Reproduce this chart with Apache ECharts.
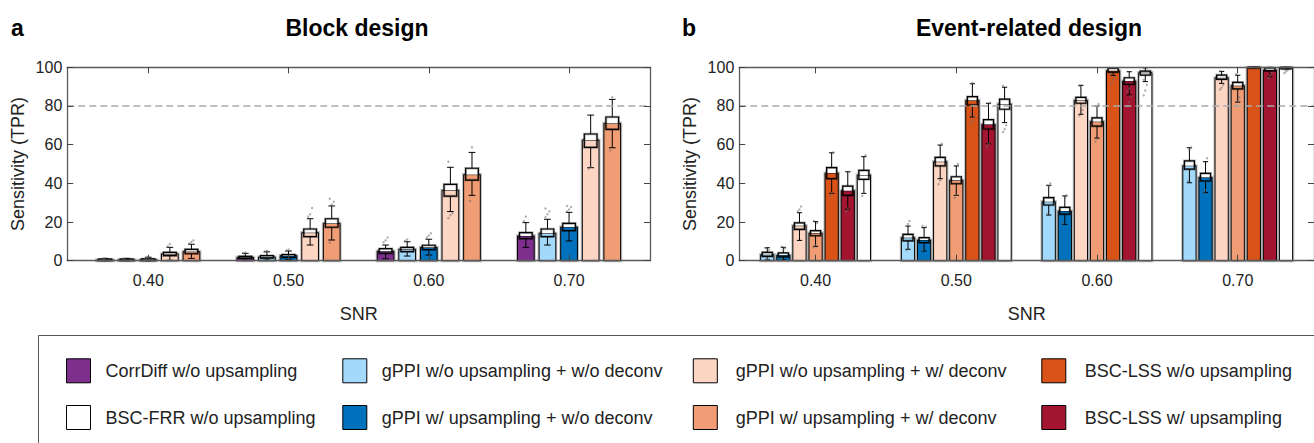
<!DOCTYPE html>
<html><head><meta charset="utf-8">
<script src="https://cdn.jsdelivr.net/npm/echarts@6/dist/echarts.min.js"></script>
<style>html,body{margin:0;padding:0;background:#fff}#c{width:1314px;height:443px}</style>
</head><body><div id="c"></div>
<script>
// ---------------- DATA ----------------
const snrLevels = [0.40, 0.50, 0.60, 0.70];
const yTicks = [0, 20, 40, 60, 80, 100];
const threshold = 80;

// rows per SNR: [mean, whiskerLow, whiskerHigh, boxLow, boxHigh]
// Block design
const blockCorrDiff   = [[0.4, 0, 1.2, 0.1, 0.8], [1.7, 0.2, 3.8, 1.2, 2.2], [4.9, 1.0, 8.1, 3.8, 6.2], [12.8, 6.9, 19.7, 11.4, 14.5]];
const blockGppiNoNo   = [[0.4, 0, 1.2, 0.1, 0.8], [1.9, 0.3, 4.6, 1.3, 2.6], [5.9, 2.4, 9.8, 4.7, 6.9], [14.2, 8.1, 21.4, 12.4, 16.4]];
const blockGppiUpNo   = [[0.5, 0, 1.8, 0.1, 0.9], [2.6, 0.6, 5.0, 1.7, 3.2], [6.9, 2.9, 11.1, 5.7, 8.0], [17.4, 10.2, 25.0, 15.5, 19.3]];
const blockGppiNoDec  = [[3.5, 0.2, 6.9, 2.6, 4.3], [14.5, 8.1, 21.7, 12.4, 16.4], [36.4, 25.4, 48.3, 33.4, 39.5], [62.4, 48.1, 75.3, 58.6, 65.5]];
const blockGppiUpDec  = [[4.7, 1.2, 8.5, 3.6, 5.9], [19.3, 10.7, 28.3, 17.3, 21.7], [44.5, 33.8, 56.0, 41.7, 47.8], [71.0, 58.4, 83.4, 67.9, 74.3]];
// Event-related design
const eventGppiNoNo   = [[3.1, 0.5, 6.7, 2.2, 4.3], [11.9, 5.9, 17.9, 10.3, 13.6], [30.5, 23.6, 39.0, 28.8, 32.6], [49.1, 40.3, 58.4, 47.3, 51.6]];
const eventGppiUpNo   = [[2.9, 0.5, 6.9, 2.0, 4.0], [10.7, 5.0, 17.1, 9.3, 11.9], [25.7, 18.8, 33.5, 24.1, 27.6], [43.1, 35.2, 51.2, 41.2, 45.2]];
const eventGppiNoDec  = [[18.1, 10.5, 24.8, 16.2, 19.6], [51.2, 42.4, 59.8, 49.0, 53.4], [82.9, 75.7, 90.7, 81.4, 84.5], [94.6, 91.7, 97.9, 93.8, 96.0]];
const eventGppiUpDec  = [[14.3, 7.4, 20.2, 12.9, 15.5], [41.6, 33.8, 49.0, 39.8, 43.4], [71.9, 63.4, 80.0, 69.6, 73.9], [90.5, 82.0, 95.9, 88.8, 92.2]];
const eventLssNoUp    = [[45.3, 34.8, 55.8, 42.4, 48.1], [82.9, 74.3, 91.5, 80.5, 84.8], [98.2, 95.8, 99.8, 97.5, 99.5], [100, 99.9, 100, 99.6, 100]];
const eventLssUp      = [[36.2, 26.7, 46.0, 33.8, 38.6], [70.5, 60.5, 81.4, 68.1, 72.9], [92.9, 85.7, 97.7, 91.2, 94.6], [98.6, 95.1, 100, 98.2, 99.7]];
const eventFrrNoUp    = [[44.3, 34.8, 53.8, 42.1, 46.7], [81.0, 71.4, 89.7, 78.3, 83.5], [97.2, 92.6, 99.7, 96.0, 98.0], [99.7, 99.0, 100, 99.2, 100]];

// individual grey points (per SNR level) visible beyond/around the whiskers
const blockDotsCorrDiff  = [[1.0, 1.3], [3.9, 4.2], [9.5, 10.5, 12.0], [20.5, 22.8]];
const blockDotsGppiNoNo  = [[1.1], [4.8, 5.2], [10.3, 11.0], [22.5, 24.0, 25.5, 27.0]];
const blockDotsGppiUpNo  = [[1.5, 2.0], [5.2, 5.8], [12.0, 13.0, 14.2], [25.5, 26.5, 27.8, 28.3]];
const blockDotsGppiNoDec = [[7.5, 8.6], [22.8, 24.0, 27.2], [22.0, 23.5, 24.5, 51.2], [47.5, 48.5]];
const blockDotsGppiUpDec = [[9.0, 9.8, 10.5], [9.3, 29.0, 30.5, 32.0], [30.9, 58.6], [57.0, 84.5]];
const eventDotsGppiNoNo  = [[0.5, 1.0, 5.5, 6.5], [5.5, 19.0, 20.5], [24.0, 38.5, 40.0], [41.0, 57.5, 58.5]];
const eventDotsGppiUpNo  = [[1.0, 5.5, 6.5, 7.2], [5.5, 16.5, 17.5, 18.0], [19.5, 32.5, 33.8], [35.5, 36.5, 53.0]];
const eventDotsGppiNoDec = [[25.5, 26.5, 28.0], [39.5, 41.5, 60.5], [75.0, 76.5, 78.0, 90.5], [88.5, 89.5, 91.0, 98.0]];
const eventDotsGppiUpDec = [[7.0, 8.0, 19.5, 20.5], [32.5, 34.0, 50.0], [61.5, 63.0, 81.0], [80.0, 82.5, 84.5, 96.5]];
const eventDotsLssNoUp   = [[33.5, 35.0, 56.0], [71.0, 72.5, 74.5, 76.0, 92.0], [91.5, 93.5, 95.0, 96.5], []];
const eventDotsLssUp     = [[25.5, 27.0, 46.0], [59.0, 60.5, 81.5], [80.0, 82.0, 85.0, 87.5, 89.0], [94.5, 95.5, 97.0]];
const eventDotsFrrNoUp   = [[33.5, 35.0, 54.5], [66.5, 68.0, 70.0, 90.5], [85.5, 88.0, 91.0, 93.5], [97.0, 97.8, 98.5, 99.0]];

const N_CORR = 'CorrDiff w/o upsampling';
const N_FRR = 'BSC-FRR w/o upsampling';
const N_G00 = 'gPPI w/o upsampling + w/o deconv';
const N_G10 = 'gPPI w/ upsampling + w/o deconv';
const N_G01 = 'gPPI w/o upsampling + w/ deconv';
const N_G11 = 'gPPI w/ upsampling + w/ deconv';
const N_LSS0 = 'BSC-LSS w/o upsampling';
const N_LSS1 = 'BSC-LSS w/ upsampling';

// ---------------- STYLE ----------------
const FONT = "'Liberation Sans', Arial, Helvetica, sans-serif";
const COLOR = {};
COLOR[N_CORR] = '#7E2F8E';
COLOR[N_FRR] = '#FFFFFF';
COLOR[N_G00] = '#A3D9FA';
COLOR[N_G10] = '#0072BD';
COLOR[N_G01] = '#FDD5C3';
COLOR[N_G11] = '#F09C74';
COLOR[N_LSS0] = '#D95319';
COLOR[N_LSS1] = '#A2142F';

const grids = [
  {left: 67.3, top: 67.3, width: 582.7, height: 193.4},
  {left: 739.3, top: 67.3, width: 583, height: 193.4}
];
const xRanges = [[0.3423, 0.7577], [0.3458, 0.7542]];
const barPitch = [0.0154, 0.01144];
const barWidth = [0.0119, 0.0094];

const panels = [
  [[N_CORR, blockCorrDiff, blockDotsCorrDiff], [N_G00, blockGppiNoNo, blockDotsGppiNoNo], [N_G10, blockGppiUpNo, blockDotsGppiUpNo],
   [N_G01, blockGppiNoDec, blockDotsGppiNoDec], [N_G11, blockGppiUpDec, blockDotsGppiUpDec]],
  [[N_G00, eventGppiNoNo, eventDotsGppiNoNo], [N_G10, eventGppiUpNo, eventDotsGppiUpNo], [N_G01, eventGppiNoDec, eventDotsGppiNoDec],
   [N_G11, eventGppiUpDec, eventDotsGppiUpDec], [N_LSS0, eventLssNoUp, eventDotsLssNoUp], [N_LSS1, eventLssUp, eventDotsLssUp],
   [N_FRR, eventFrrNoUp, eventDotsFrrNoUp]]
];

function makeRender(offset, bw, color) {
  return function (params, api) {
    const x = api.value(0) + offset;
    const mean = api.value(1), lo = api.value(2), hi = api.value(3), bLo = api.value(4), bHi = api.value(5);
    const base = api.coord([x, 0]);
    const yTop = api.coord([x, mean])[1];
    const yLo = api.coord([x, lo])[1], yHi = api.coord([x, hi])[1];
    const yBLo = api.coord([x, bLo])[1], yBHi = api.coord([x, bHi])[1];
    const w = api.size([bw, 0])[0];
    const cx = base[0];
    const boxW = w * 0.76, capW = w * 0.4;
    const ch = [];
    const barShape = {x: cx - w / 2, y: yTop, width: w, height: base[1] - yTop};
    ch.push({type: 'rect', shape: barShape, style: {fill: 'none', stroke: 'rgba(0,0,0,0.25)', lineWidth: 3.2}});
    ch.push({type: 'rect', shape: barShape, style: {fill: color, stroke: '#000', lineWidth: 1}});
    ch.push({type: 'line', shape: {x1: cx, y1: yLo, x2: cx, y2: yBLo}, style: {stroke: '#000', lineWidth: 1}});
    ch.push({type: 'line', shape: {x1: cx, y1: yBHi, x2: cx, y2: yHi}, style: {stroke: '#000', lineWidth: 1}});
    ch.push({type: 'line', shape: {x1: cx - capW / 2, y1: yLo, x2: cx + capW / 2, y2: yLo}, style: {stroke: '#000', lineWidth: 1}});
    ch.push({type: 'line', shape: {x1: cx - capW / 2, y1: yHi, x2: cx + capW / 2, y2: yHi}, style: {stroke: '#000', lineWidth: 1}});
    const yWhiteBottom = Math.min(yTop, yBLo);
    if (yWhiteBottom > yBHi) {
      ch.push({type: 'rect', shape: {x: cx - boxW / 2, y: yBHi, width: boxW, height: yWhiteBottom - yBHi}, style: {fill: '#fff'}});
    }
    ch.push({type: 'rect', shape: {x: cx - boxW / 2, y: yBHi, width: boxW, height: yBLo - yBHi}, style: {fill: 'none', stroke: 'rgba(0,0,0,0.3)', lineWidth: 2.6}});
    ch.push({type: 'rect', shape: {x: cx - boxW / 2, y: yBHi, width: boxW, height: yBLo - yBHi}, style: {fill: 'none', stroke: '#000', lineWidth: 1.2}});
    return {type: 'group', children: ch};
  };
}

function makeDotRender(offset, bw) {
  return function (params, api) {
    const x = api.value(0) + offset;
    const k = api.value(2);
    const p = api.coord([x, api.value(1)]);
    const w = api.size([bw, 0])[0];
    const dx = ((k % 3) - 1) * w * 0.12;
    return {type: 'circle', shape: {cx: p[0] + dx, cy: p[1], r: 1.2}, style: {fill: 'rgba(110,110,110,0.55)'}};
  };
}

const series = [];
const xAxes = [];
const yAxes = [];
panels.forEach((list, g) => {
  const n = list.length;
  list.forEach(([name, rows, dots], i) => {
    const off = (i - (n - 1) / 2) * barPitch[g];
    series.push({
      type: 'custom', name: name, xAxisIndex: g * 2, yAxisIndex: g * 2,
      itemStyle: {color: COLOR[name], borderColor: '#000', borderWidth: 1},
      encode: {x: 0, y: 1},
      data: rows.map((r, k) => [snrLevels[k]].concat(r)),
      renderItem: makeRender(off, barWidth[g], COLOR[name]),
      silent: true, z: 2
    });
    const dotData = [];
    dots.forEach((vals, k) => vals.forEach((v, j) => dotData.push([snrLevels[k], v, j])));
    series.push({
      type: 'custom', name: name, xAxisIndex: g * 2, yAxisIndex: g * 2,
      encode: {x: 0, y: 1}, data: dotData,
      renderItem: makeDotRender(off, barWidth[g]),
      silent: true, z: 3
    });
  });
  series.push({
    type: 'line', xAxisIndex: g * 2, yAxisIndex: g * 2, data: [], z: 6, silent: true,
    markLine: {silent: true, symbol: 'none', label: {show: false},
      lineStyle: {color: '#ababab', type: [7, 4], width: 1.5},
      data: [{yAxis: threshold}]}
  });
  const axLine = {show: true, onZero: false, lineStyle: {color: '#5a5a5a', width: 1.3}};
  const tickStyle = {color: '#444', width: 1};
  xAxes.push({
    gridIndex: g, type: 'value', min: xRanges[g][0], max: xRanges[g][1], position: 'bottom', z: 10,
    axisLine: axLine,
    axisTick: {show: true, inside: true, length: 6, customValues: snrLevels, lineStyle: tickStyle},
    axisLabel: {show: true, customValues: snrLevels, formatter: v => v.toFixed(2), fontSize: 16, color: '#222', fontFamily: FONT, margin: 12},
    splitLine: {show: false}, minorTick: {show: false},
    name: 'SNR', nameLocation: 'middle', nameGap: 44,
    nameTextStyle: {fontSize: 18, color: '#222', fontFamily: FONT, verticalAlign: 'top'}
  });
  xAxes.push({
    gridIndex: g, type: 'value', min: xRanges[g][0], max: xRanges[g][1], position: 'top', z: 10,
    axisLine: axLine,
    axisTick: {show: true, inside: true, length: 6, customValues: snrLevels, lineStyle: tickStyle},
    axisLabel: {show: false}, splitLine: {show: false}
  });
  yAxes.push({
    gridIndex: g, type: 'value', min: 0, max: 100, interval: 20, position: 'left', z: 10,
    axisLine: axLine,
    axisTick: {show: true, inside: true, length: 6, lineStyle: tickStyle},
    axisLabel: {show: true, fontSize: 16, color: '#222', fontFamily: FONT, margin: 5},
    splitLine: {show: false},
    name: 'Sensitivity (TPR)', nameLocation: 'middle', nameGap: 40,
    nameTextStyle: {fontSize: 18, color: '#222', fontFamily: FONT}
  });
  yAxes.push({
    gridIndex: g, type: 'value', min: 0, max: 100, interval: 20, position: 'right', z: 10,
    axisLine: axLine,
    axisTick: {show: true, inside: true, length: 6, lineStyle: tickStyle},
    axisLabel: {show: false}, splitLine: {show: false}
  });
});

const legendCols = [[N_CORR, N_FRR], [N_G00, N_G10], [N_G01, N_G11], [N_LSS0, N_LSS1]];
const legendLeft = [66, 342.3, 692.8, 1041.3];
const legendPad = [10, 10, 13.5, 14];
const legends = legendCols.map((names, i) => ({
  orient: 'vertical', left: legendLeft[i], top: 358.3, padding: 0,
  itemWidth: 24, itemHeight: 24, itemGap: 21.7, selectedMode: false,
  textStyle: {fontSize: 18, color: '#222', fontFamily: FONT, padding: [0, 0, 0, legendPad[i]]},
  data: names.map(nm => ({name: nm, icon: 'rect', itemStyle: {color: COLOR[nm], borderColor: '#000', borderWidth: 1}}))
}));

const option = {
  backgroundColor: '#fff',
  animation: false,
  title: [
    {text: 'Block design', left: 357, top: 16, textAlign: 'center', padding: 0,
      textStyle: {fontSize: 23, fontWeight: 'bold', color: '#000', fontFamily: FONT, lineHeight: 23}},
    {text: 'Event-related design', left: 1029, top: 16, textAlign: 'center', padding: 0,
      textStyle: {fontSize: 23, fontWeight: 'bold', color: '#000', fontFamily: FONT, lineHeight: 23}},
    {text: 'a', left: 11, top: 16, padding: 0,
      textStyle: {fontSize: 23, fontWeight: 'bold', color: '#000', fontFamily: FONT, lineHeight: 23}},
    {text: 'b', left: 682, top: 16, padding: 0,
      textStyle: {fontSize: 23, fontWeight: 'bold', color: '#000', fontFamily: FONT, lineHeight: 23}}
  ],
  grid: grids,
  xAxis: xAxes,
  yAxis: yAxes,
  legend: legends,
  graphic: [{type: 'rect', shape: {x: 38.5, y: 335.5, width: 1400, height: 200},
    style: {fill: 'none', stroke: '#555', lineWidth: 1}, silent: true, z: 0}],
  series: series
};

const chart = echarts.init(document.getElementById('c'), null, {renderer: 'svg'});
chart.setOption(option);
</script>
</body></html>
